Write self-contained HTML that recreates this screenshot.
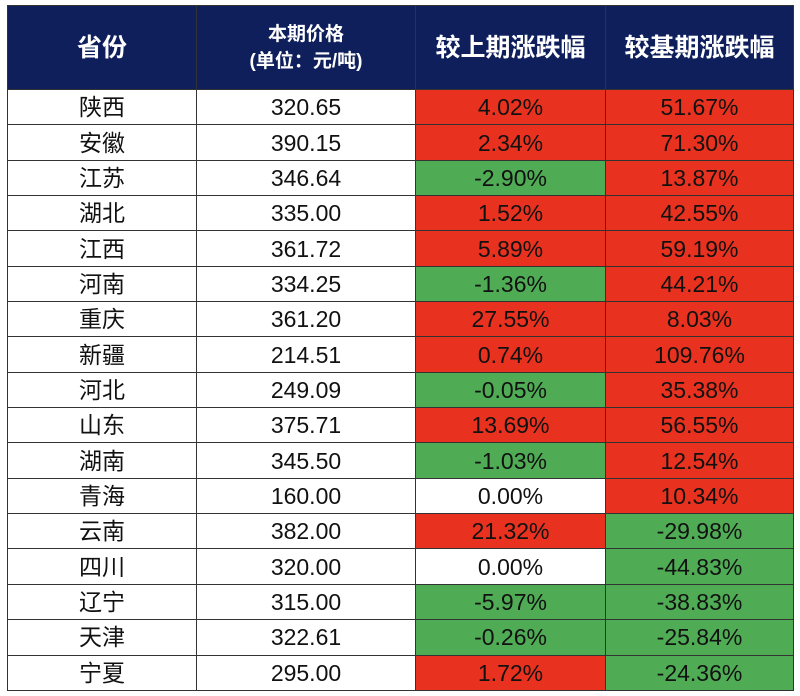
<!DOCTYPE html>
<html><head><meta charset="utf-8"><style>
body{margin:0;background:#fff;width:800px;height:696px;overflow:hidden}
table{position:absolute;left:7px;top:5px;border-collapse:collapse;table-layout:fixed;font-family:"Liberation Sans","Noto Sans CJK SC",sans-serif}
td,th{border:1px solid #333;text-align:center;padding:0;font-weight:normal;color:#111;font-size:23px;height:34.35px;line-height:34px}
th{background:#0f1f5c;color:#fff;font-weight:bold;height:83px;font-size:25px}
th.s{font-size:19px;line-height:27px}
td.r{background:#e8321f}
td.g{background:#4fac55}
</style></head><body>
<table>
<colgroup><col style="width:189px"><col style="width:219px"><col style="width:190px"><col style="width:188px"></colgroup>
<tr><th>省份</th><th class="s">本期价格<br>(单位：元/吨)</th><th>较上期涨跌幅</th><th>较基期涨跌幅</th></tr>
<tr><td>陕西</td><td>320.65</td><td class="r">4.02%</td><td class="r">51.67%</td></tr>
<tr><td>安徽</td><td>390.15</td><td class="r">2.34%</td><td class="r">71.30%</td></tr>
<tr><td>江苏</td><td>346.64</td><td class="g">-2.90%</td><td class="r">13.87%</td></tr>
<tr><td>湖北</td><td>335.00</td><td class="r">1.52%</td><td class="r">42.55%</td></tr>
<tr><td>江西</td><td>361.72</td><td class="r">5.89%</td><td class="r">59.19%</td></tr>
<tr><td>河南</td><td>334.25</td><td class="g">-1.36%</td><td class="r">44.21%</td></tr>
<tr><td>重庆</td><td>361.20</td><td class="r">27.55%</td><td class="r">8.03%</td></tr>
<tr><td>新疆</td><td>214.51</td><td class="r">0.74%</td><td class="r">109.76%</td></tr>
<tr><td>河北</td><td>249.09</td><td class="g">-0.05%</td><td class="r">35.38%</td></tr>
<tr><td>山东</td><td>375.71</td><td class="r">13.69%</td><td class="r">56.55%</td></tr>
<tr><td>湖南</td><td>345.50</td><td class="g">-1.03%</td><td class="r">12.54%</td></tr>
<tr><td>青海</td><td>160.00</td><td>0.00%</td><td class="r">10.34%</td></tr>
<tr><td>云南</td><td>382.00</td><td class="r">21.32%</td><td class="g">-29.98%</td></tr>
<tr><td>四川</td><td>320.00</td><td>0.00%</td><td class="g">-44.83%</td></tr>
<tr><td>辽宁</td><td>315.00</td><td class="g">-5.97%</td><td class="g">-38.83%</td></tr>
<tr><td>天津</td><td>322.61</td><td class="g">-0.26%</td><td class="g">-25.84%</td></tr>
<tr><td>宁夏</td><td>295.00</td><td class="r">1.72%</td><td class="g">-24.36%</td></tr>
</table>
</body></html>
